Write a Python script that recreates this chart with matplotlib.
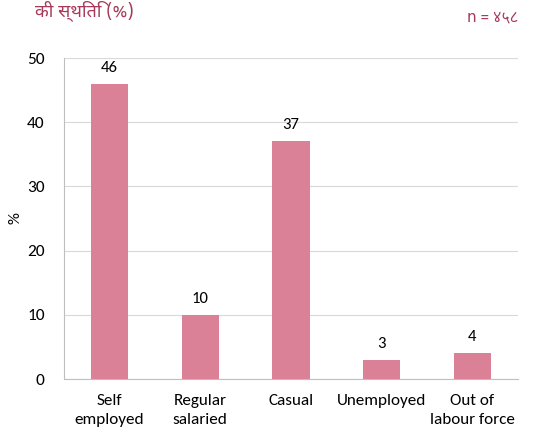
import matplotlib.pyplot as plt
from matplotlib import font_manager

categories = ["Self\nemployed", "Regular\nsalaried", "Casual", "Unemployed", "Out of\nlabour force"]
values = [46, 10, 37, 3, 4]
yticks = [0, 10, 20, 30, 40, 50]

# Devanagari font for the header texts
deva = "Noto Sans Devanagari"
for f in font_manager.findSystemFonts():
    if "NotoSansDevanagari-Regular" in f or "NotoSansDevanagariUI-Regular" in f:
        font_manager.fontManager.addfont(f)
        deva = font_manager.FontProperties(fname=f).get_name()
        break

plt.rcParams['font.family'] = ['Carlito', 'Open Sans', 'DejaVu Sans']

fig = plt.figure(figsize=(5.48, 4.3), dpi=100)
ax = fig.add_axes([0.117, 0.1186, 0.828, 0.7465])

bars = ax.bar(range(len(values)), values, width=0.41, color="#DB8197", zorder=3)
for b, v in zip(bars, values):
    ax.text(b.get_x() + b.get_width() / 2, v + 1.4, str(v), ha="center", va="bottom",
            fontsize=12, color="#000000")

ax.set_xlim(-0.5, len(values) - 0.5)
ax.set_ylim(0, 50)
ax.set_yticks(yticks)
ax.set_xticks(range(len(values)))
ax.set_xticklabels(categories, fontsize=12.3, linespacing=1.45)
ax.tick_params(axis="y", labelsize=12.5, length=0, pad=14)
ax.tick_params(axis="x", length=0, pad=11)
ax.yaxis.grid(True, color="#D9D9D9", linewidth=0.8, zorder=0)
for s in ["top", "right"]:
    ax.spines[s].set_visible(False)
ax.spines["left"].set_color("#BFBFBF")
ax.spines["bottom"].set_color("#BFBFBF")
ax.set_ylabel("%", fontsize=12, labelpad=3)

fig.text(0.064, 0.975, "की स्थिति (%)", fontsize=13, color="#A8385A", va="center", ha="left",
         family=[deva, 'DejaVu Sans'])
fig.text(0.945, 0.96, "n = ४५८", fontsize=11, color="#A8385A", va="center", ha="right",
         family=[deva, 'DejaVu Sans'])

fig.savefig("out.png", dpi=100)
